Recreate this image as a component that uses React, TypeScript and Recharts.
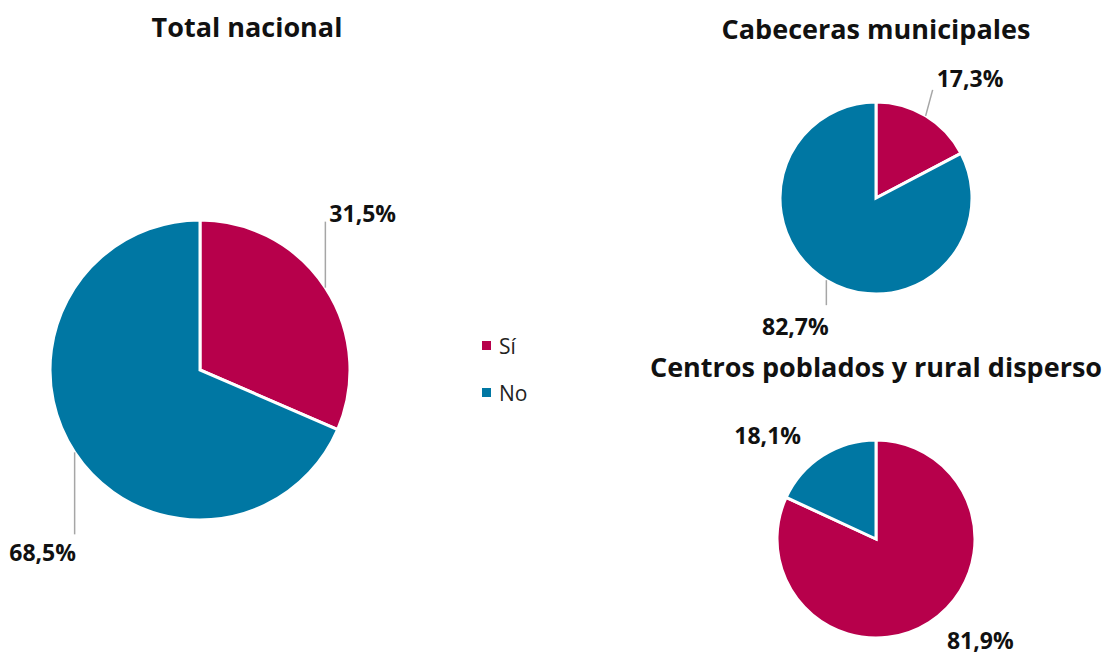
import React from 'react';
import { PieChart, Pie, Cell, Legend } from 'recharts';

const categories = ['Sí', 'No'];
const colors = ['#B7004B', '#0077A3'];
const totalNacional = [31.5, 68.5];
const cabeceras = [17.3, 82.7];
const centros = [81.9, 18.1];
const titles = ['Total nacional', 'Cabeceras municipales', 'Centros poblados y rural disperso'];

const FONT = '"Open Sans", "Noto Sans", sans-serif';

const build = (vals: number[]) => vals.map((v, i) => ({ name: categories[i], value: v }));

// label layout: offset of the text from the slice's outer-edge point, and optional leader line length
type LabelSpec = { dx: number; dy: number; anchor: 'start' | 'middle' | 'end'; line?: [number, number] };

const makeLabel = (specs: LabelSpec[]) => (props: any) => {
  const { cx, cy, midAngle, outerRadius, index, value } = props;
  const rad = (Math.PI / 180) * midAngle;
  const ex = cx + outerRadius * Math.cos(rad);
  const ey = cy - outerRadius * Math.sin(rad);
  const s = specs[index];
  const txt = value.toFixed(1).replace('.', ',') + '%';
  return (
    <g>
      {s.line && (
        <line x1={ex} y1={ey} x2={ex + s.line[0]} y2={ey + s.line[1]} stroke="#A6A6A6" strokeWidth={1.5} />
      )}
      <text
        x={ex + s.dx}
        y={ey + s.dy}
        textAnchor={s.anchor}
        dominantBaseline="central"
        fontFamily={FONT}
        fontWeight={700}
        fontSize={23}
        fill="#111"
      >
        {txt}
      </text>
    </g>
  );
};

const mainLabels: LabelSpec[] = [
  { dx: 4, dy: -75, anchor: 'start', line: [0, -66] },
  { dx: -32, dy: 100, anchor: 'middle', line: [0, 82] },
];
const cabLabels: LabelSpec[] = [
  { dx: 11, dy: -38, anchor: 'start', line: [7, -26] },
  { dx: -31, dy: 46, anchor: 'middle', line: [0, 25] },
];
const cenLabels: LabelSpec[] = [
  { dx: 51, dy: 18, anchor: 'middle' },
  { dx: -55, dy: -21, anchor: 'middle' },
];

const LegendContent = () => (
  <div style={{ fontFamily: FONT, fontSize: 21, color: '#222' }}>
    {categories.map((c, i) => (
      <div key={c} style={{ display: 'flex', alignItems: 'center', height: 47 }}>
        <span style={{ display: 'inline-block', width: 9, height: 9, background: colors[i], marginRight: 8 }} />
        <span>{c}</span>
      </div>
    ))}
  </div>
);

export default function App() {
  const titleStyle = (cx: number, top: number): React.CSSProperties => ({
    position: 'absolute',
    left: cx - 300,
    width: 600,
    top,
    textAlign: 'center',
    fontFamily: FONT,
    fontWeight: 700,
    fontSize: 27,
    color: '#111',
    lineHeight: '32px',
  });
  return (
    <div style={{ position: 'absolute', left: 0, top: 0, width: 1110, height: 661, background: '#fff' }}>
      <PieChart width={1110} height={661} margin={{ top: 0, right: 0, bottom: 0, left: 0 }}>
        <Pie
          data={build(totalNacional)}
          dataKey="value"
          cx={200}
          cy={370}
          outerRadius={150}
          startAngle={90}
          endAngle={-270}
          stroke="#fff"
          strokeWidth={3}
          label={makeLabel(mainLabels)}
          labelLine={false}
          isAnimationActive={false}
        >
          {totalNacional.map((_, i) => (
            <Cell key={i} fill={colors[i]} />
          ))}
        </Pie>
        <Pie
          data={build(cabeceras)}
          dataKey="value"
          cx={876}
          cy={198}
          outerRadius={96}
          startAngle={90}
          endAngle={-270}
          stroke="#fff"
          strokeWidth={3}
          label={makeLabel(cabLabels)}
          labelLine={false}
          isAnimationActive={false}
        >
          {cabeceras.map((_, i) => (
            <Cell key={i} fill={colors[i]} />
          ))}
        </Pie>
        <Pie
          data={build(centros)}
          dataKey="value"
          cx={876}
          cy={539}
          outerRadius={99}
          startAngle={90}
          endAngle={-270}
          stroke="#fff"
          strokeWidth={3}
          label={makeLabel(cenLabels)}
          labelLine={false}
          isAnimationActive={false}
        >
          {centros.map((_, i) => (
            <Cell key={i} fill={colors[i]} />
          ))}
        </Pie>
        <Legend
          layout="vertical"
          content={<LegendContent />}
          wrapperStyle={{ position: 'absolute', left: 482, top: 322, width: 80 }}
        />
      </PieChart>
      <div style={titleStyle(247, 11)}>{titles[0]}</div>
      <div style={titleStyle(876, 13)}>{titles[1]}</div>
      <div style={titleStyle(876, 351)}>{titles[2]}</div>
    </div>
  );
}
